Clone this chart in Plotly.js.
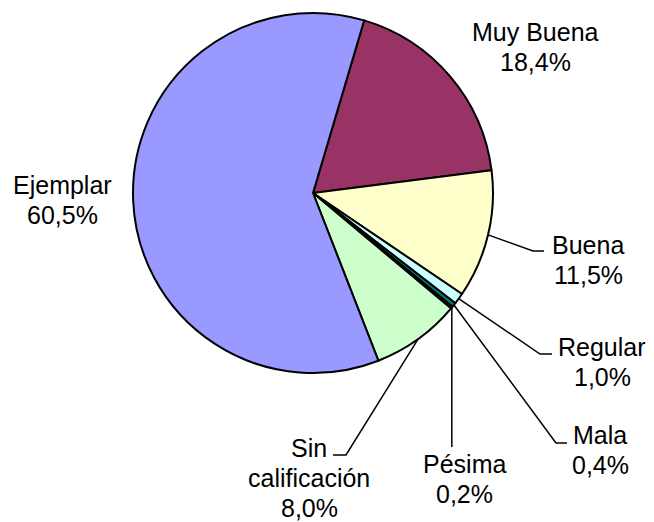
<!DOCTYPE html>
<html>
<head>
<meta charset="utf-8">
<script src="https://cdn.plot.ly/plotly-3.0.1.min.js"></script>
<style>html,body{margin:0;padding:0;background:#fff;}#chart{width:654px;height:522px;}</style>
</head>
<body>
<div id="chart"></div>
<script>
// ---- data ----
const categories = ['Muy Buena', 'Buena', 'Regular', 'Mala', 'Pésima', 'Sin calificación', 'Ejemplar'];
const values = [18.4, 11.5, 1.0, 0.4, 0.2, 8.0, 60.5];
const sliceColors = ['#993366', '#FFFFCC', '#CCFFFF', '#008080', '#FF8080', '#CCFFCC', '#9999FF'];

// ---- layout config (pixels) ----
const W = 654, H = 522;
const CX = 313, CY = 193, R = 180;
const ROT = 16.5;
const FONT = 'Arial, "Liberation Sans", sans-serif';
const FSIZE = 25, LINE = 30;
// label block centre, and leader knee/end points (null = no leader)
const labelCfg = {
  'Muy Buena':        {x: 535, y: 47,  lines: ['Muy Buena'],            leader: null},
  'Buena':            {x: 588, y: 260, lines: ['Buena'],                leader: [[533, 251], [544, 251]]},
  'Regular':          {x: 602, y: 362, lines: ['Regular'],              leader: [[540, 354], [552, 354]]},
  'Mala':             {x: 600, y: 450, lines: ['Mala'],                 leader: [[556, 443], [567, 443]]},
  'Pésima':           {x: 464, y: 479, lines: ['Pésima'],               leader: [['v', 447]]},
  'Sin calificación': {x: 309, y: 478, lines: ['Sin', 'calificación'],  leader: [[346, 455], [333, 455]]},
  'Ejemplar':         {x: 62,  y: 200, lines: ['Ejemplar'],             leader: null}
};

const px = x => x / W;
const py = y => 1 - y / H;

const total = values.reduce((a, b) => a + b, 0);
const fmt = v => (v / total * 100).toFixed(1).replace('.', ',') + '%';

const annotations = [];
const shapes = [];
let cum = 0;
categories.forEach((c, i) => {
  const v = values[i];
  const mid = (ROT + 360 * (cum + v / 2) / total) * Math.PI / 180;
  cum += v;
  const ex = CX + R * Math.sin(mid), ey = CY - R * Math.cos(mid);
  const cfg = labelCfg[c];
  const lines = cfg.lines.concat([fmt(v)]);
  const y0 = cfg.y - (lines.length - 1) * LINE / 2;
  lines.forEach((t, k) => {
    annotations.push({
      xref: 'paper', yref: 'paper', x: px(cfg.x), y: py(y0 + k * LINE),
      xanchor: 'center', yanchor: 'middle', showarrow: false,
      text: t, align: 'center', borderpad: 0,
      font: {family: FONT, size: FSIZE, color: '#000'}
    });
  });
  if (cfg.leader) {
    let d = 'M' + px(ex) + ',' + py(ey);
    cfg.leader.forEach(p => {
      if (p[0] === 'v') d += ' L' + px(ex) + ',' + py(p[1]);
      else d += ' L' + px(p[0]) + ',' + py(p[1]);
    });
    shapes.push({type: 'path', xref: 'paper', yref: 'paper', path: d,
      line: {color: '#000', width: 1.5}});
  }
});

const trace = {
  type: 'pie',
  labels: categories,
  values: values,
  sort: false,
  direction: 'clockwise',
  rotation: ROT,
  textinfo: 'none',
  hoverinfo: 'label+percent',
  marker: {colors: sliceColors, line: {color: '#000', width: 2}},
  domain: {x: [px(CX - R), px(CX + R)], y: [py(CY + R), py(CY - R)]},
  showlegend: false
};

Plotly.newPlot('chart', [trace], {
  width: W, height: H,
  margin: {l: 0, r: 0, t: 0, b: 0},
  paper_bgcolor: '#fff',
  showlegend: false,
  annotations: annotations,
  shapes: shapes
}, {displayModeBar: false, staticPlot: true});
</script>
</body>
</html>
